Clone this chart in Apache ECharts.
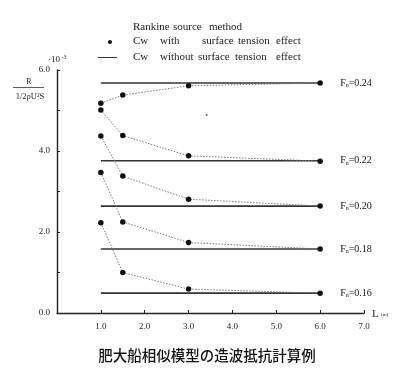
<!DOCTYPE html>
<html>
<head>
<meta charset="utf-8">
<script src="https://cdn.jsdelivr.net/npm/echarts@6/dist/echarts.min.js"></script>
<style>html,body{margin:0;padding:0;background:#fff;}#c{width:420px;height:382px;}</style>
</head>
<body>
<div id="c"></div>
<script>
// Ship length L (m) at which Cw with surface tension was computed
const lengths = [1.0, 1.5, 3.0, 6.0];
// Froude numbers
const froude = ['0.24', '0.22', '0.20', '0.18', '0.16'];
// Cw without surface tension effect (x10^-3), constant lines from L=1.0 to 6.0
const cwWithout = [5.68, 3.76, 2.64, 1.58, 0.49];
const lineRange = [1.0, 6.0];
// Cw with surface tension effect (x10^-3)
const cwWith024 = [5.18, 5.38, 5.61, 5.68];
const cwWith022 = [5.01, 4.38, 3.88, 3.75];
const cwWith020 = [4.37, 3.38, 2.81, 2.64];
const cwWith018 = [3.47, 2.25, 1.74, 1.58];
const cwWith016 = [2.23, 1.00, 0.59, 0.49];
const cwWith = [cwWith024, cwWith022, cwWith020, cwWith018, cwWith016];
// stray speck in the figure
const speck = [[3.41, 4.89]];
// tick labels
const xTicks = ['', '1.0', '2.0', '3.0', '4.0', '5.0', '6.0', '7.0'];
const yTicks = ['0.0', '', '2.0', '', '4.0', '', '6.0'];

const serif = '"Liberation Serif","Times New Roman",serif';
const ink = '#222';
const series = [];
froude.forEach((fn, i) => {
  series.push({
    type: 'line',
    data: lengths.map((x, k) => [x, cwWith[i][k]]),
    symbol: 'circle', symbolSize: 5.5, showSymbol: true,
    itemStyle: { color: '#111' },
    lineStyle: { color: '#777', width: 1, type: [1.5, 1.5] },
    z: 3, silent: true, animation: false
  });
  series.push({
    type: 'line',
    data: lineRange.map(x => [x, cwWithout[i]]),
    symbol: 'none',
    lineStyle: { color: '#333', width: 1.6 },
    endLabel: {
      show: true, distance: 20, color: '#111', fontFamily: serif, fontSize: 10,
      formatter: () => '{b|F}{s|n}{b|=' + fn + '}',
      rich: { b: { fontFamily: serif, fontSize: 10, color: '#111' }, s: { fontFamily: serif, fontSize: 6, color: '#111', padding: [5, 0, 0, 0] } }
    },
    z: 2, silent: true, animation: false
  });
});
series.push({ type: 'scatter', data: speck, symbolSize: 2, itemStyle: { color: '#333' }, silent: true, animation: false });

function word(t, left, cy) {
  return { type: 'text', x: left, y: cy, style: { text: t, font: '11px ' + serif, fill: '#1a1a1a', verticalAlign: 'middle' } };
}

const chart = echarts.init(document.getElementById('c'), null, { renderer: 'canvas' });
chart.setOption({
  animation: false,
  grid: { left: 57, right: 56, top: 70, bottom: 69, containLabel: false },
  xAxis: {
    type: 'value', min: 0, max: 7, interval: 1,
    axisLine: { show: true, lineStyle: { color: ink, width: 1.4 } },
    axisTick: { show: true, inside: true, length: 3, lineStyle: { color: ink } },
    axisLabel: { color: '#222', fontFamily: serif, fontSize: 9, margin: 9, formatter: (v) => xTicks[Math.round(v)] },
    splitLine: { show: false }
  },
  yAxis: {
    type: 'value', min: 0, max: 6, interval: 1,
    axisLine: { show: true, lineStyle: { color: ink, width: 1.4 } },
    axisTick: { show: true, inside: true, length: 3, lineStyle: { color: ink } },
    axisLabel: { color: '#222', fontFamily: serif, fontSize: 9, margin: 7, formatter: (v) => yTicks[Math.round(v)] },
    splitLine: { show: false }
  },
  series: series,
  graphic: [
    word('Rankine', 133, 27), word('source', 173, 27), word('method', 209, 27),
    { type: 'circle', shape: { cx: 110, cy: 42, r: 2 }, style: { fill: '#111' } },
    word('Cw', 133, 41.5), word('with', 160, 41.5), word('surface', 202, 41.5), word('tension', 238, 41.5), word('effect', 276, 41.5),
    { type: 'line', shape: { x1: 98, y1: 57.5, x2: 117, y2: 57.5 }, style: { stroke: '#333', lineWidth: 1 } },
    word('Cw', 133, 57.5), word('without', 160, 57.5), word('surface', 198, 57.5), word('tension', 235, 57.5), word('effect', 276, 57.5),
    { type: 'text', x: 48, y: 60, style: { text: '·10', font: '9px ' + serif, fill: '#222', verticalAlign: 'middle' } },
    { type: 'text', x: 61.5, y: 57, style: { text: '-3', font: '6px ' + serif, fill: '#222', verticalAlign: 'middle' } },
    { type: 'text', x: 29, y: 82, style: { text: 'R', font: '8px ' + serif, fill: '#222', align: 'center', verticalAlign: 'middle' } },
    { type: 'line', shape: { x1: 13, y1: 87.5, x2: 44, y2: 87.5 }, style: { stroke: '#333', lineWidth: 0.8 } },
    { type: 'text', x: 30, y: 96.5, style: { text: '1/2ρU²S', font: '8.5px ' + serif, fill: '#222', align: 'center', verticalAlign: 'middle' } },
    { type: 'text', x: 372, y: 314, style: { text: 'L', font: '11px ' + serif, fill: '#222', verticalAlign: 'middle' } },
    { type: 'text', x: 381, y: 315, style: { text: '(m)', font: '5px ' + serif, fill: '#222', verticalAlign: 'middle' } },
    { type: 'text', x: 207, y: 355, style: { text: '肥大船相似模型の造波抵抗計算例', font: '500 14.5px "Noto Sans CJK JP"', fill: '#111', align: 'center', verticalAlign: 'middle' } }
  ]
});
</script>
</body>
</html>
